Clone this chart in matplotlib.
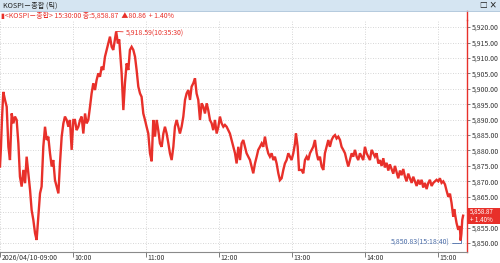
import matplotlib
matplotlib.use("Agg")
import matplotlib.pyplot as plt
import matplotlib.transforms as mtransforms
from matplotlib.patches import Rectangle
from matplotlib.lines import Line2D

plt.rcParams['font.family'] = ['Noto Sans CJK KR', 'DejaVu Sans']

# ---- data (minutes after 09:00, KOSPI price) ----
minutes = [0, 0.8, 1.6, 2.7, 4.1, 5.5, 6.9, 8.2, 9.6, 11.0, 12.3, 13.7, 15.1, 16.4, 17.8, 19.2,
           20.6, 21.9, 23.3, 24.7, 26.0, 27.4, 28.8, 30.1, 31.5, 32.9, 34.2, 35.6, 37.0, 38.4,
           39.7, 41.1, 42.5, 43.8, 45.2, 46.6, 48.0, 49.3, 50.7, 52.1, 53.4, 54.8, 56.2, 57.5,
           58.9, 60.3,
           61.6, 63.0, 64.4, 65.8, 67.1, 68.5, 69.9, 71.2, 72.6, 74.0, 75.3, 76.7, 78.1, 79.4,
           80.8, 82.2, 83.6, 84.9, 86.3, 87.7, 89.0, 90.4, 91.8, 93.1, 95.5, 96.9, 98.0, 98.6,
           100.0, 101.4, 102.7, 104.1, 105.5, 106.8, 108.2, 109.6, 111.0, 112.3, 113.7, 115.1,
           116.4, 117.8, 119.2, 120.5, 121.9,
           123.3, 124.7, 126.0, 127.4, 128.8, 130.1, 131.5, 132.9, 134.3, 135.6, 137.0, 138.4,
           139.7, 141.1, 142.5, 143.8, 145.2, 146.6, 147.9, 149.3, 150.7, 152.1, 153.4, 154.8,
           156.2, 157.5, 158.9, 160.3, 161.6, 163.0, 164.4, 165.8, 167.1, 168.5, 169.9, 171.2,
           172.6, 174.0, 175.3, 176.7, 178.1, 179.5, 180.8, 182.2, 183.6,
           184.9, 186.3, 187.7, 189.0, 190.4, 191.8, 193.2, 194.5, 195.9, 197.3, 198.6, 200.0,
           201.4, 202.7, 204.1, 205.5, 206.8, 208.2, 209.6, 211.0, 212.3, 213.7, 215.1, 216.4,
           217.8, 219.2, 220.5, 221.9, 223.3, 224.7, 226.0, 227.4, 228.8, 230.1, 231.5, 232.9,
           234.2, 235.6, 237.0, 238.4, 239.7, 241.1, 242.5, 243.3, 244.7, 245.8,
           247.9, 249.3, 250.7, 252.1, 253.4, 254.8, 256.2, 257.5, 258.9, 260.3, 261.6, 263.0,
           264.4, 265.8, 267.1, 268.5, 269.9, 271.2, 272.6, 274.0, 275.4, 276.7, 278.1, 279.5,
           280.8, 282.2, 283.6, 284.9, 286.3, 287.7, 289.1, 290.4, 291.8, 293.2, 294.5, 295.9,
           297.3, 298.6, 300.0, 301.4, 302.8, 304.1, 305.5, 306.9, 308.2, 309.6, 311.0, 312.3,
           313.7, 315.1, 316.4, 317.8, 319.2, 320.5, 321.9, 323.3, 324.7, 326.0, 327.4, 328.8,
           330.1, 331.5, 332.9, 334.2, 335.6, 337.0, 338.4, 339.7, 341.1, 342.5, 343.8, 345.2,
           346.6, 347.9, 349.3, 350.7, 352.1, 353.4, 354.8, 356.2, 357.5, 358.9, 360.3, 361.6,
           363.0, 364.4, 365.8, 367.1, 368.5, 369.9, 371.2, 372.6, 373.4, 374.0, 375.3, 376.7,
           378.0, 378.67, 379.3, 380.0, 380.7]
prices = [5874.8, 5881.2, 5889.9, 5899.0, 5896.4, 5894.2, 5881.2, 5876.9, 5892.0, 5888.8, 5891.0,
          5889.9, 5882.3, 5871.5, 5868.3, 5873.7, 5869.4, 5878.0, 5872.6, 5867.2, 5860.7, 5857.5,
          5853.2, 5851.0, 5858.6, 5866.1, 5868.3, 5881.2, 5887.7, 5883.4, 5884.5, 5879.1, 5874.8,
          5876.9, 5870.4, 5868.3, 5866.1, 5875.8, 5884.5, 5888.8, 5891.0, 5889.9, 5887.7, 5889.9,
          5880.2, 5889.9,
          5889.9, 5886.6, 5887.7, 5889.9, 5891.0, 5885.5, 5892.0, 5888.8, 5889.9, 5894.2, 5898.5,
          5901.8, 5899.6, 5902.8, 5905.0, 5903.9, 5907.2, 5906.1, 5910.4, 5912.6, 5914.7, 5916.9,
          5913.6, 5912.6, 5918.59, 5914.7, 5916.0, 5912.6, 5905.0, 5893.1, 5901.8, 5908.2, 5906.1,
          5912.6, 5913.6, 5912.6, 5910.4, 5906.1, 5900.7, 5898.5, 5897.4, 5892.0, 5889.9, 5887.7,
          5885.5,
          5879.1, 5876.5, 5889.9, 5884.5, 5889.9, 5886.6, 5882.3, 5881.2, 5885.5, 5887.7, 5885.5,
          5882.3, 5879.1, 5876.9, 5881.2, 5887.7, 5889.9, 5887.7, 5885.5, 5887.7, 5891.0, 5896.4,
          5898.5, 5899.6, 5896.4, 5900.7, 5901.8, 5903.4, 5898.5, 5896.4, 5889.9, 5895.3, 5894.2,
          5892.0, 5895.3, 5893.1, 5889.9, 5888.8, 5886.6, 5889.9, 5885.5, 5887.7, 5891.0, 5888.8,
          5887.7,
          5888.3, 5887.7, 5886.6, 5885.5, 5883.4, 5881.2, 5879.1, 5875.8, 5881.2, 5876.9, 5882.3,
          5883.4, 5881.2, 5879.1, 5878.0, 5876.9, 5874.8, 5872.6, 5875.8, 5878.0, 5880.2, 5881.2,
          5882.3, 5881.2, 5884.5, 5881.2, 5879.1, 5878.0, 5879.1, 5876.9, 5878.0, 5875.8, 5872.6,
          5870.4, 5871.0, 5873.7, 5875.8, 5876.9, 5879.1, 5878.0, 5876.9, 5879.1, 5882.3, 5885.5,
          5881.2, 5873.7,
          5873.7, 5872.6, 5876.9, 5878.0, 5876.9, 5879.1, 5880.2, 5881.2, 5883.4, 5879.1, 5876.9,
          5878.0, 5874.8, 5873.7, 5879.1, 5881.2, 5883.4, 5881.2, 5883.4, 5884.5, 5885.0, 5883.9,
          5884.5, 5883.4, 5881.2, 5880.2, 5879.1, 5876.9, 5874.8, 5876.9, 5879.1, 5878.0, 5880.2,
          5878.0, 5876.9, 5879.1, 5878.0, 5876.9, 5881.2, 5879.1, 5878.0, 5876.9, 5880.2, 5879.1,
          5878.0, 5879.1, 5875.8, 5876.9,
          5875.0, 5877.5, 5874.5, 5876.0, 5873.5, 5875.5, 5874.0, 5872.5, 5875.0, 5873.0, 5871.0,
          5873.5, 5872.0, 5874.0, 5871.5, 5870.0, 5872.5, 5871.0, 5869.5, 5871.5, 5870.0, 5868.5,
          5870.5, 5869.0, 5870.5, 5868.0, 5869.5, 5867.5, 5869.5, 5870.5, 5868.5, 5869.5, 5870.0,
          5870.5, 5870.0, 5871.0, 5869.5, 5870.0, 5869.0, 5867.0, 5865.0, 5866.0, 5863.0, 5858.5,
          5861.0, 5859.5, 5856.5, 5854.3, 5855.5, 5850.83, 5853.0, 5857.5, 5858.87]

x_ticks = [0, 60, 120, 180, 240, 300, 360]
x_labels = ["2026/04/10-09:00", "10:00", "11:00", "12:00", "13:00", "14:00", "15:00"]
y_ticks = [5850, 5855, 5860, 5865, 5870, 5875, 5880, 5885, 5890, 5895, 5900, 5905, 5910, 5915, 5920]

high_val, high_time, high_min = 5918.59, "10:35:30", 95.5
low_val, low_time, low_min = 5850.83, "15:18:40", 378.67
close_val, change, pct = 5858.87, 80.86, 1.40

RED = '#e8302a'
W, H = 500, 263
fig = plt.figure(figsize=(5.0, 2.63), dpi=100)
fig.patch.set_facecolor('white')

ax = fig.add_axes([0 / W, 1 - 252 / H, 467 / W, (252 - 20) / H])
ax.plot(minutes, prices, color=RED, lw=1.7, solid_joinstyle='miter')
ax.set_xlim(0, 383.9)
ax.set_ylim(5847.1, 5922.3)

ax.set_xticks(x_ticks)
ax.set_xticklabels(x_labels, ha='left', fontsize=5.0, color='#333333')
ax.tick_params(axis='x', length=3.5, width=0.6, color='#666666', pad=-2.2)
shift = mtransforms.ScaledTranslation(1.5 / 100, 0, fig.dpi_scale_trans)
for lbl in ax.get_xticklabels():
    lbl.set_transform(lbl.get_transform() + shift)
ax.yaxis.tick_right()
ax.set_yticks(y_ticks)
# the 5,860 label sits under the close-price box in the reference
ax.set_yticklabels(["" if v == 5860 else f"{v:,.2f}" for v in y_ticks],
                   fontsize=5.0, color='#333333')
ax.tick_params(axis='y', length=2.5, width=0.6, color='#666666', pad=0.8)
ax.grid(True, color='#c9c9c9', lw=0.6, linestyle=(0, (1, 2)))
ax.set_axisbelow(True)
for s in ['top', 'left']:
    ax.spines[s].set_visible(False)
ax.spines['bottom'].set_color('#8a8a8a')
ax.spines['bottom'].set_linewidth(0.8)
ax.spines['right'].set_color(RED)
ax.spines['right'].set_linewidth(1.0)

# extend red vertical line up to header
fig.add_artist(Line2D([467 / W, 467 / W], [1 - 20 / H, 1 - 11 / H], color=RED, lw=1.0))

# high annotation
ax.annotate(f"{high_val:,.2f}({high_time})", xy=(high_min, high_val), xytext=(7, -1.5),
            textcoords='offset points', fontsize=5.0, color=RED, va='center', ha='left',
            arrowprops=dict(arrowstyle='-', color=RED, lw=0.6, shrinkA=0, shrinkB=0))
# low annotation
ax.annotate(f"{low_val:,.2f}({low_time})", xy=(low_min, low_val), xytext=(-8, -1.5),
            textcoords='offset points', fontsize=5.0, color='#4a6ca8', va='center', ha='right',
            arrowprops=dict(arrowstyle='-', color='#4a6ca8', lw=0.6, shrinkA=0, shrinkB=0,
                            connectionstyle='angle,angleA=0,angleB=90,rad=0'))

# close price box on right axis
fig.add_artist(Rectangle((467 / W, 1 - 224 / H), 33 / W, 16 / H, facecolor=RED,
                         edgecolor='none', transform=fig.transFigure))
fig.text(470 / W, 1 - 211.8 / H, f"{close_val:,.2f}", fontsize=4.5, color='white',
         ha='left', va='center')
fig.text(470 / W, 1 - 219.6 / H, f"+ {pct:.2f}%", fontsize=4.5, color='white',
         ha='left', va='center')

# header bar
fig.add_artist(Rectangle((0, 1 - 11 / H), 1, 11 / H, facecolor='#d5e5f2',
                         edgecolor='none', transform=fig.transFigure))
fig.add_artist(Line2D([0, 1], [1 - 11 / H, 1 - 11 / H], color='#a8c2d8', lw=0.6))
fig.text(3 / W, 1 - 5.5 / H, "KOSPI－종합 (틱)", fontsize=5.2, color='#222222',
         ha='left', va='center')
fig.text(497 / W, 1 - 5.5 / H, "□ ×", fontsize=5.5, color='#222222',
         ha='right', va='center', fontweight='bold')

# info line
fig.text(1 / W, 1 - 15.5 / H,
         f"▮<KOSPI－종합> 15:30:00 종:{close_val:,.2f}  ▲{change:.2f}  + {pct:.2f}%",
         fontsize=5.0, color=RED, ha='left', va='center')

fig.savefig("out.png", dpi=100)
